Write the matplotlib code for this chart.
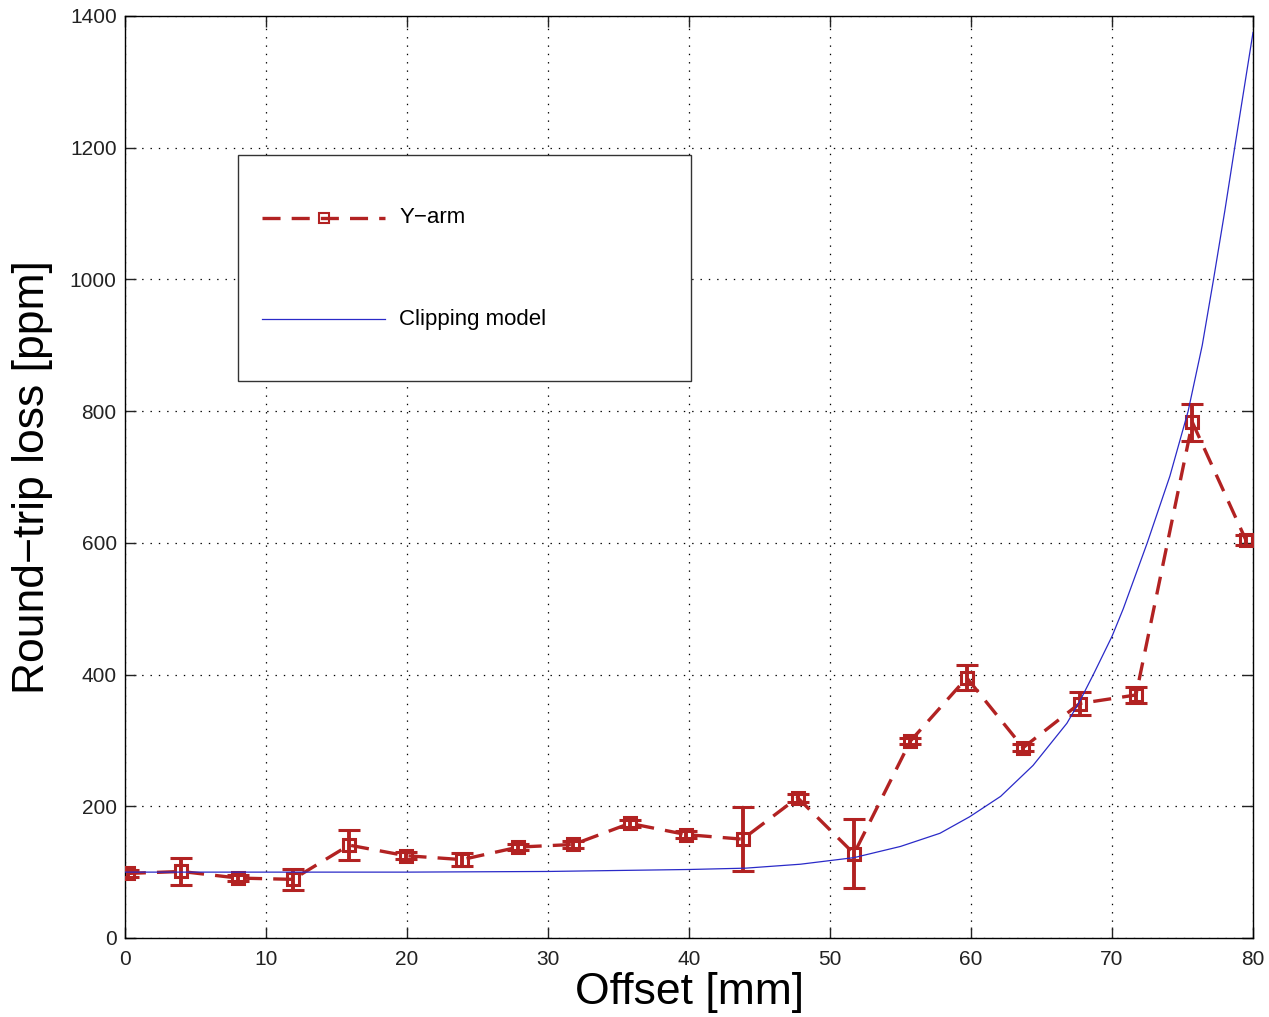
import matplotlib
matplotlib.use('Agg')
import matplotlib.pyplot as plt  # noqa
from matplotlib.lines import Line2D  # noqa
from matplotlib.patches import Rectangle  # noqa

plt.rcParams.update({
    'font.family': ['Liberation Sans', 'DejaVu Sans'],
    'lines.scale_dashes': False,
})

# measured round-trip loss, Y-arm
offset = [0.2, 4.0, 8.0, 11.9, 15.9, 19.9, 23.9, 27.9, 31.8, 35.8, 39.8,
          43.8, 47.7, 51.7, 55.7, 59.7, 63.7, 67.7, 71.7, 75.7, 79.5]
loss = [98, 101, 91, 89, 141, 125, 119, 138, 142, 174, 157,
        150, 213, 128, 299, 395, 289, 356, 369, 783, 604]
loss_err = [5, 21, 5, 16, 23, 5, 10, 5, 5, 5, 5,
            49, 6, 52, 5, 19, 5, 17, 12, 28, 8]

model_x = [0, 10, 20, 30, 40, 44, 47.9, 51.7, 55, 57.8, 59.9, 62.1, 64.4,
           66.8, 67.7, 68.7, 70, 70.8, 72.5, 74.1, 75.4, 76.4, 77.2, 78,
           78.7, 80]
model_y = [100, 100, 100, 101, 104, 106, 112, 122, 139, 159, 184, 215, 262,
           326, 359, 401, 458, 500, 600, 701, 800, 900, 1000, 1104,
           1200, 1375]

x_ticks = [0, 10, 20, 30, 40, 50, 60, 70, 80]
y_ticks = [0, 200, 400, 600, 800, 1000, 1200, 1400]

RED = '#B22222'
BLUE = '#2A2AC8'
DASH = (0, (13, 8))


def plot():
    fig = plt.figure(figsize=(12.69, 10.17), dpi=100)
    ax = fig.add_axes([0.0985, 0.0777, 0.8889, 0.9066])

    ax.plot(offset, loss, color=RED, lw=2.4, ls=DASH, zorder=3)
    ax.errorbar(offset, loss, yerr=loss_err, fmt='s', color=RED,
                mfc='none', mec=RED, ms=8, mew=2.2, elinewidth=2.8,
                capsize=8, capthick=2.8, zorder=4)
    ax.plot(model_x, model_y, color=BLUE, lw=0.9, zorder=5)

    ax.set_xlim(0, 80)
    ax.set_ylim(0, 1400)
    ax.set_xticks(x_ticks)
    ax.set_yticks(y_ticks)
    ax.grid(True, color='black', ls=(0, (1, 5)), lw=0.9)
    ax.tick_params(direction='in', length=8, width=1, top=True, right=True,
                   labelsize=15, colors='#222222', pad=6)
    ax.tick_params(axis='x', pad=9)
    for s in ax.spines.values():
        s.set_linewidth(1)
        s.set_color('black')

    ax.set_xlabel('Offset [mm]', fontsize=32, labelpad=2)
    ax.set_ylabel('Round\u2212trip loss [ppm]', fontsize=32, labelpad=12)

    # legend box, drawn by hand to get the large MATLAB-style frame
    tr = ax.transAxes
    ax.add_patch(Rectangle((0.100, 0.604), 0.402, 0.245, transform=tr,
                           fc='white', ec='#333333', lw=1, zorder=6))
    ax.add_line(Line2D([0.1215, 0.2305], [0.781, 0.781], transform=tr,
                       color=RED, lw=2.4, ls=DASH, zorder=7))
    ax.add_line(Line2D([0.176], [0.781], transform=tr, marker='s', ms=7,
                       mfc='none', mec=RED, mew=1.5, color=RED, zorder=7))
    ax.add_line(Line2D([0.1215, 0.2305], [0.671, 0.671], transform=tr,
                       color=BLUE, lw=0.9, zorder=7))
    ax.text(0.243, 0.781, 'Y\u2212arm', transform=tr, fontsize=16,
            va='center', zorder=7)
    ax.text(0.243, 0.671, 'Clipping model', transform=tr, fontsize=16,
            va='center', zorder=7)

    fig.savefig('out.png', dpi=100)


if __name__ == '__main__':
    plot()
